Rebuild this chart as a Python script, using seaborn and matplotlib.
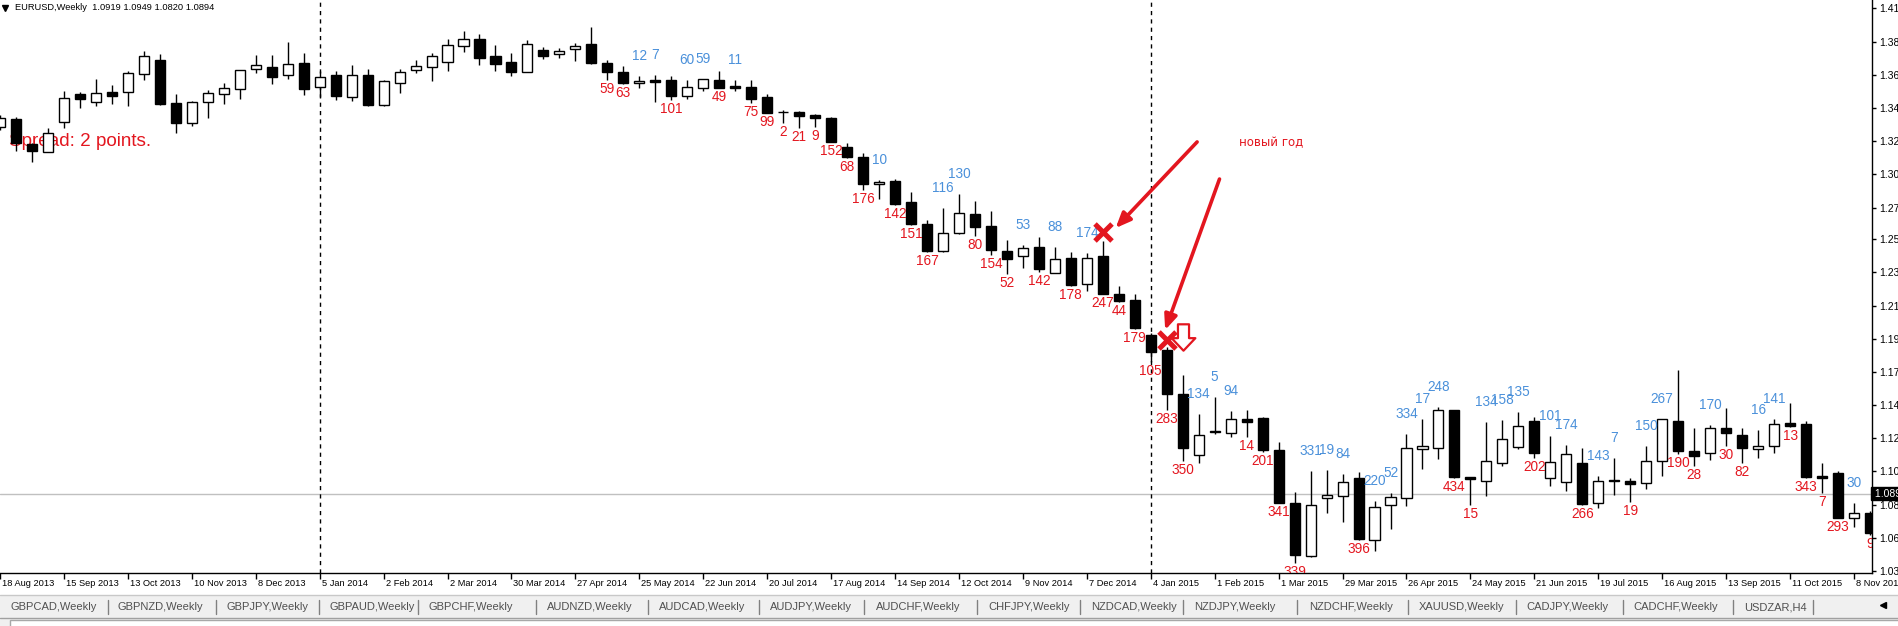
import numpy as np
import pandas as pd
import matplotlib
matplotlib.use("Agg")
import matplotlib.pyplot as plt
import matplotlib.transforms as mtransforms
from matplotlib.path import Path
from matplotlib.patches import Rectangle
from matplotlib.lines import Line2D
import seaborn as sns

# ---------------- data (EURUSD weekly) ----------------
first_week = "2013-08-18"
open_ = [1.3324, 1.3377, 1.3211, 1.3158, 1.3357, 1.3543, 1.3490, 1.3556, 1.3556, 1.3675,
         1.3768, 1.3483, 1.3351, 1.3490, 1.3543, 1.3576, 1.3709, 1.3722, 1.3669, 1.3748,
         1.3589, 1.3669, 1.3523, 1.3669, 1.3470, 1.3616, 1.3702, 1.3722, 1.3755, 1.3861,
         1.3907, 1.3795, 1.3755, 1.3689, 1.3834, 1.3808, 1.3841, 1.3874, 1.3748, 1.3689,
         1.3616, 1.3636, 1.3636, 1.3530, 1.3583, 1.3636, 1.3596, 1.3589, 1.3523, 1.3423,
         1.3423, 1.3404, 1.3384, 1.3191, 1.3125, 1.2946, 1.2966, 1.2826, 1.2681, 1.2502,
         1.2621, 1.2747, 1.2668, 1.2502, 1.2469, 1.2528, 1.2356, 1.2455, 1.2283, 1.2469,
         1.2217, 1.2177, 1.1945, 1.1845, 1.1554, 1.1149, 1.1302, 1.1295, 1.1388, 1.1395,
         1.1182, 1.0831, 1.0480, 1.0864, 1.0877, 1.0997, 1.0586, 1.0818, 1.0864, 1.1189,
         1.1196, 1.1448, 1.1003, 1.0977, 1.1096, 1.1202, 1.1375, 1.0997, 1.0970, 1.1096,
         1.0831, 1.0984, 1.0977, 1.0964, 1.1110, 1.1375, 1.1176, 1.1163, 1.1328, 1.1282,
         1.1189, 1.1209, 1.1362, 1.1355, 1.1010, 1.1030, 1.0732, 1.0765]
high = [1.3404, 1.3390, 1.3218, 1.3317, 1.3563, 1.3556, 1.3642, 1.3602, 1.3695, 1.3828,
        1.3808, 1.3543, 1.3496, 1.3569, 1.3616, 1.3705, 1.3801, 1.3801, 1.3888, 1.3815,
        1.3695, 1.3695, 1.3735, 1.3709, 1.3636, 1.3709, 1.3768, 1.3815, 1.3907, 1.3960,
        1.3941, 1.3868, 1.3815, 1.3901, 1.3854, 1.3848, 1.3881, 1.3987, 1.3768, 1.3728,
        1.3662, 1.3669, 1.3662, 1.3636, 1.3645, 1.3695, 1.3636, 1.3636, 1.3543, 1.3437,
        1.3430, 1.3410, 1.3390, 1.3218, 1.3152, 1.2973, 1.2979, 1.2893, 1.2707, 1.2787,
        1.2880, 1.2833, 1.2767, 1.2575, 1.2542, 1.2595, 1.2528, 1.2495, 1.2489, 1.2568,
        1.2270, 1.2217, 1.1958, 1.1866, 1.1680, 1.1421, 1.1534, 1.1441, 1.1448, 1.1398,
        1.1236, 1.0904, 1.1043, 1.1050, 1.1023, 1.1037, 1.0844, 1.0897, 1.1289, 1.1388,
        1.1468, 1.1451, 1.1006, 1.1368, 1.1381, 1.1434, 1.1401, 1.1275, 1.1216, 1.1196,
        1.1010, 1.1129, 1.0997, 1.1209, 1.1391, 1.1713, 1.1328, 1.1348, 1.1461, 1.1328,
        1.1315, 1.1388, 1.1494, 1.1375, 1.1096, 1.1043, 1.0831, 1.0775]
low = [1.3304, 1.3165, 1.3092, 1.3155, 1.3317, 1.3450, 1.3463, 1.3476, 1.3463, 1.3636,
       1.3470, 1.3284, 1.3331, 1.3384, 1.3476, 1.3510, 1.3682, 1.3609, 1.3642, 1.3536,
       1.3523, 1.3503, 1.3496, 1.3466, 1.3466, 1.3549, 1.3682, 1.3629, 1.3695, 1.3821,
       1.3735, 1.3695, 1.3662, 1.3686, 1.3775, 1.3781, 1.3762, 1.3742, 1.3636, 1.3612,
       1.3583, 1.3490, 1.3503, 1.3510, 1.3563, 1.3580, 1.3563, 1.3483, 1.3414, 1.3351,
       1.3317, 1.3324, 1.3222, 1.3119, 1.2906, 1.2847, 1.2810, 1.2674, 1.2495, 1.2495,
       1.2614, 1.2601, 1.2475, 1.2349, 1.2389, 1.2363, 1.2353, 1.2273, 1.2237, 1.2214,
       1.2163, 1.1988, 1.1766, 1.1448, 1.1110, 1.1096, 1.1289, 1.1269, 1.1269, 1.1169,
       1.0828, 1.0433, 1.0473, 1.0765, 1.0705, 1.0589, 1.0513, 1.0659, 1.0811, 1.1057,
       1.1123, 1.1000, 1.0818, 1.0877, 1.1077, 1.1189, 1.1129, 1.0944, 1.0911, 1.0821,
       1.0798, 1.0884, 1.0838, 1.0924, 1.1010, 1.1156, 1.1077, 1.1116, 1.1209, 1.1096,
       1.1129, 1.1163, 1.1335, 1.0997, 1.0897, 1.0729, 1.0672, 1.0619]
close = [1.3384, 1.3218, 1.3165, 1.3284, 1.3516, 1.3510, 1.3549, 1.3530, 1.3682, 1.3795,
         1.3476, 1.3351, 1.3490, 1.3549, 1.3583, 1.3702, 1.3735, 1.3655, 1.3742, 1.3576,
         1.3655, 1.3530, 1.3669, 1.3470, 1.3629, 1.3689, 1.3728, 1.3795, 1.3868, 1.3907,
         1.3781, 1.3742, 1.3689, 1.3874, 1.3795, 1.3828, 1.3861, 1.3748, 1.3689, 1.3616,
         1.3629, 1.3622, 1.3530, 1.3589, 1.3642, 1.3583, 1.3583, 1.3510, 1.3417, 1.3421,
         1.3397, 1.3384, 1.3225, 1.3125, 1.2946, 1.2959, 1.2813, 1.2681, 1.2502, 1.2621,
         1.2754, 1.2661, 1.2508, 1.2449, 1.2522, 1.2383, 1.2449, 1.2276, 1.2455, 1.2217,
         1.2170, 1.1991, 1.1832, 1.1554, 1.1196, 1.1282, 1.1308, 1.1388, 1.1368, 1.1182,
         1.0831, 1.0486, 1.0818, 1.0884, 1.0970, 1.0592, 1.0805, 1.0871, 1.1196, 1.1209,
         1.1448, 1.1003, 1.0990, 1.1110, 1.1255, 1.1342, 1.1163, 1.1103, 1.1156, 1.0824,
         1.0977, 1.0977, 1.0957, 1.1110, 1.1388, 1.1176, 1.1143, 1.1328, 1.1295, 1.1196,
         1.1209, 1.1355, 1.1342, 1.1003, 1.0997, 1.0732, 1.0765, 1.0632]

# numbers printed above (blue) and below (red) the candles
blue_idx = [40, 41, 43, 44, 46, 55, 59, 60, 64, 66, 68, 75, 76, 77, 82, 83, 84, 86, 87, 88,
            89, 90, 93, 94, 95, 97, 98, 100, 101, 103, 104, 107, 110, 111, 116]
blue_val = [12, 7, 60, 59, 11, 10, 116, 130, 53, 88, 174, 134, 5, 94, 331, 19, 84, 220, 52, 334,
            17, 248, 134, 158, 135, 101, 174, 143, 7, 150, 267, 170, 16, 141, 30]
red_idx = [38, 39, 42, 45, 47, 48, 49, 50, 51, 52, 53, 54, 56, 57, 58, 61, 62, 63, 65, 67,
           69, 70, 71, 72, 73, 74, 78, 79, 80, 81, 85, 91, 92, 96, 99, 102, 105, 106, 108, 109,
           112, 113, 114, 115, 117]
red_val = [59, 63, 101, 49, 75, 99, 2, 21, 9, 152, 68, 176, 142, 151, 167, 80, 154, 52, 142, 178,
           247, 44, 179, 105, 283, 350, 14, 201, 341, 339, 396, 434, 15, 202, 266, 19, 190, 28, 30, 82,
           13, 343, 7, 293, 9]

date_labels = ["18 Aug 2013", "15 Sep 2013", "13 Oct 2013", "10 Nov 2013", "8 Dec 2013",
               "5 Jan 2014", "2 Feb 2014", "2 Mar 2014", "30 Mar 2014", "27 Apr 2014",
               "25 May 2014", "22 Jun 2014", "20 Jul 2014", "17 Aug 2014", "14 Sep 2014",
               "12 Oct 2014", "9 Nov 2014", "7 Dec 2014", "4 Jan 2015", "1 Feb 2015",
               "1 Mar 2015", "29 Mar 2015", "26 Apr 2015", "24 May 2015", "21 Jun 2015",
               "19 Jul 2015", "16 Aug 2015", "13 Sep 2015", "11 Oct 2015", "8 Nov 2015"]
price_ticks = [1.038, 1.060, 1.082, 1.104, 1.126, 1.148, 1.170, 1.192, 1.214, 1.236,
               1.258, 1.279, 1.301, 1.323, 1.345, 1.367, 1.389, 1.411]
price_tick_labels = ["1.0380", "1.0600", "1.0820", "1.1040", "1.1260", "1.1480", "1.1700",
                     "1.1920", "1.2140", "1.2360", "1.2580", "1.2790", "1.3010", "1.3230",
                     "1.3450", "1.3670", "1.3890", "1.4110"]
year_separators = ["2014-01-05", "2015-01-04"]
bid_price = 1.0894
header = "EURUSD,Weekly  1.0919 1.0949 1.0820 1.0894"
spread_text = "Spread: 2 points."
note_text = "новый год"

# red marks drawn on the chart
cross_idx = [69, 73]
cross_price = [1.2628, 1.1912]
sell_arrow_idx = [74]
sell_arrow_price = [1.1932]
note_idx, note_price = 77.5, 1.3218
arrow_tails = [(74.9, 1.3225), (76.3, 1.2979)]
arrow_heads = [(69.8, 1.2654), (72.9, 1.1978)]

tabs = ["GBPCAD,Weekly", "GBPNZD,Weekly", "GBPJPY,Weekly", "GBPAUD,Weekly", "GBPCHF,Weekly",
        "AUDNZD,Weekly", "AUDCAD,Weekly", "AUDJPY,Weekly", "AUDCHF,Weekly", "CHFJPY,Weekly",
        "NZDCAD,Weekly", "NZDJPY,Weekly", "NZDCHF,Weekly", "XAUUSD,Weekly", "CADJPY,Weekly",
        "CADCHF,Weekly", "USDZAR,H4"]

# ---------------- layout (pixels) ----------------
W, H = 1899, 626
tab_x = [11, 118, 227, 330, 429, 547, 659, 770, 876, 988, 1091, 1194, 1309, 1419, 1526, 1633, 1744]
sep_x = [108, 216, 319, 418, 536, 648, 759, 864, 977, 1080, 1183, 1297, 1408, 1516, 1623, 1733, 1813]

RED = "#E3161F"
BLUE = "#4A90DA"

sns.set_style("white")
plt.rcParams["font.family"] = ["Liberation Sans", "DejaVu Sans"]

fig = plt.figure(figsize=(W / 100, H / 100), dpi=100)
fig.patch.set_facecolor("white")
ax = fig.add_axes([0, 1 - 573 / H, 1872 / W, 573 / H])
ax.set_facecolor("white")

weeks = pd.date_range(first_week, periods=len(open_), freq="7D")
x = np.arange(len(weeks))
o, h, l, c = (np.array(v) for v in (open_, high, low, close))
bull = c >= o
bottom = np.minimum(o, c)
height = np.abs(c - o)

ax.set_xlim(0.125, 117.125)
ax.set_ylim(1.0367, 1.4166)

# bid line and year separators
ax.axhline(bid_price, color="#C0C0C0", lw=1, zorder=0.8)
for d in year_separators:
    xi = (pd.Timestamp(d) - weeks[0]).days // 7
    ax.axvline(xi, color="black", lw=1, ls=(0, (3, 3)), zorder=1)

# spread label (behind candles)
ax.text(9 / 1872, (573 - 142) / 573, spread_text, transform=ax.transAxes, color=RED,
        fontsize=13.6, va="center", ha="left", zorder=1.5)

# candles
ax.vlines(x, l, h, color="black", lw=1, zorder=2)
ax.bar(x[bull], height[bull], bottom=bottom[bull], width=0.63, color="white",
       edgecolor="black", linewidth=1, zorder=3)
ax.bar(x[~bull], height[~bull], bottom=bottom[~bull], width=0.63, color="black",
       edgecolor="black", linewidth=1, zorder=3)

# numbers
up = mtransforms.offset_copy(ax.transData, fig=fig, x=0, y=20, units="dots")
dn = mtransforms.offset_copy(ax.transData, fig=fig, x=0, y=-9, units="dots")
for i, v in zip(blue_idx, blue_val):
    ax.text(i, h[i], str(v), transform=up, color=BLUE, fontsize=9.8, ha="center",
            va="center", zorder=4, clip_on=True)
for i, v in zip(red_idx, red_val):
    ax.text(i, l[i], str(v), transform=dn, color=RED, fontsize=9.8, ha="center",
            va="center", zorder=4, clip_on=True)

# red crosses and sell arrow
sns.scatterplot(x=cross_idx, y=cross_price, marker="x", s=150, linewidth=3.6, color=RED,
                ax=ax, zorder=6, legend=False)
arrow_path = Path([(-0.42, 1), (0.42, 1), (0.42, -0.05), (0.9, -0.05), (0, -1),
                   (-0.9, -0.05), (-0.42, -0.05), (-0.42, 1)], closed=True)
ax.plot(sell_arrow_idx, sell_arrow_price, marker=arrow_path, ms=19, mfc="white", mec=RED,
        mew=1.6, ls="none", zorder=6)

# annotation arrows and note
for (tx, ty), (hx, hy) in zip(arrow_tails, arrow_heads):
    ax.annotate("", xy=(hx, hy), xytext=(tx, ty),
                arrowprops=dict(arrowstyle="-|>,head_length=0.9,head_width=0.38", color=RED,
                                lw=2.6, shrinkA=0, shrinkB=0), zorder=7)
ax.text(note_idx, note_price, note_text, color=RED, fontsize=8.5, ha="left", va="center",
        family=["DejaVu Sans"], zorder=7)

# axes styling
for s in ("left", "top"):
    ax.spines[s].set_visible(False)
for s in ("right", "bottom"):
    ax.spines[s].set_visible(True)
    ax.spines[s].set_color("black")
    ax.spines[s].set_linewidth(1)
ax.yaxis.tick_right()
ax.set_yticks(price_ticks)
ax.set_yticklabels(price_tick_labels)
ax.tick_params(axis="y", direction="out", length=3, width=1, pad=2, labelsize=7.5,
               colors="black", right=True, left=False)

tick_idx = [(pd.to_datetime(s, format="%d %b %Y") - weeks[0]).days // 7 for s in date_labels]
ax.set_xticks(tick_idx)
ax.set_xticklabels(date_labels, ha="left")
ax.tick_params(axis="x", direction="out", length=4, width=1, pad=0.5, labelsize=6.7,
               colors="black", bottom=True)
shift = mtransforms.ScaledTranslation(2 / 100, 0, fig.dpi_scale_trans)
for lab in ax.get_xticklabels():
    lab.set_transform(lab.get_transform() + shift)
ax.grid(False)

# bid price box
ax.text(1.0, bid_price, " 1.0894", transform=ax.get_yaxis_transform(), color="white",
        fontsize=7.5, va="center", ha="left", clip_on=False, zorder=8,
        bbox=dict(boxstyle="square,pad=0.12", fc="black", ec="black"))

# header
def fy(py):
    return 1 - py / H

fig.add_artist(Line2D([5 / W], [fy(8)], marker="v", ms=5, color="black", transform=fig.transFigure))
fig.text(15 / W, fy(8), header, fontsize=6.7, va="center", ha="left", color="black")

# tab bar
fig.add_artist(Rectangle((0, fy(626)), 1, (626 - 595) / H, transform=fig.transFigure,
                         fc="#F0F0F0", ec="none", zorder=0))
fig.add_artist(Line2D([0, 1], [fy(595), fy(595)], color="#C8C8C8", lw=1, transform=fig.transFigure))
fig.add_artist(Line2D([0, 1], [fy(618), fy(618)], color="#A0A0A0", lw=1, transform=fig.transFigure))
fig.add_artist(Rectangle((10 / W, fy(630)), 1, (630 - 620) / H, transform=fig.transFigure,
                         fc="white", ec="#A8A8A8", lw=1))
for t, tx in zip(tabs, tab_x):
    fig.text(tx / W, fy(607), t, fontsize=8.0, color="#505050", va="center", ha="left")
for sx in sep_x:
    fig.add_artist(Line2D([sx / W, sx / W], [fy(600), fy(614)], color="#808080", lw=1,
                          transform=fig.transFigure))
fig.add_artist(Line2D([1883 / W], [fy(605)], marker="<", ms=4, color="black",
                      transform=fig.transFigure))

fig.savefig("out.png", dpi=100)
